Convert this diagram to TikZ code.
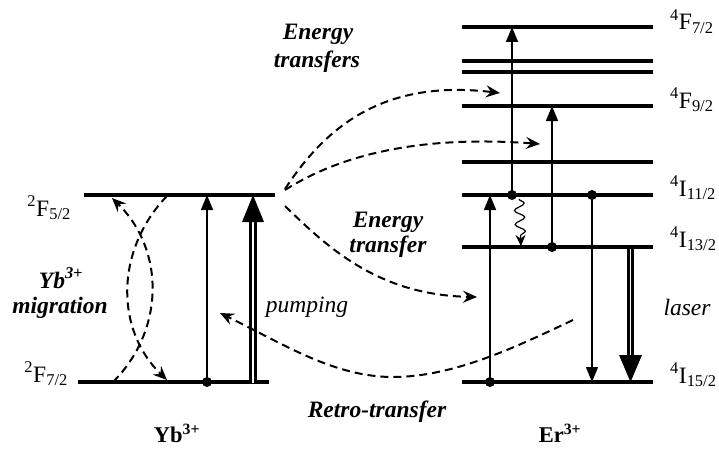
\documentclass[tikz,border=0pt]{standalone}
\usepackage{fontspec}
\setmainfont{Liberation Serif}[
  UprightFont = *,
  BoldFont = * Bold,
  ItalicFont = * Italic,
  BoldItalicFont = * Bold Italic]
\usetikzlibrary{arrows.meta,decorations.pathmorphing}
\begin{document}
\begin{tikzpicture}[x=1pt,y=-1pt,
  level/.style={line width=3.2pt},
  thinarrow/.style={line width=1.5pt,-{Triangle[length=15pt,width=12pt]}},
  dashy/.style={line width=2pt,dash pattern=on 8pt off 5pt,-{Stealth[length=14pt,width=12pt,inset=5pt]}},
  dblblack/.style={line width=7.5pt},
  dblwhite/.style={line width=1.8pt,white},
  lbl/.style={font=\fontsize{23.5}{27}\selectfont,inner sep=0pt},
  lblbi/.style={font=\fontsize{23.5}{27}\selectfont\bfseries\itshape,inner sep=0pt},
  lblb/.style={font=\fontsize{22.5}{27}\selectfont\bfseries,inner sep=0pt},
  lbli/.style={font=\fontsize{23.5}{27}\selectfont\itshape,inner sep=0pt},
  dot/.style={circle,fill,inner sep=0pt,minimum size=10pt}
]
\useasboundingbox (0,0) rectangle (719,452);

% ---------- Yb levels ----------
\coordinate (ybAL) at (84,195); \coordinate (ybAR) at (275,195);
\coordinate (ybBL) at (78,382); \coordinate (ybBR) at (269,382);
\draw[level] (ybAL) -- (ybAR);
\draw[level] (ybBL) -- (ybBR);

% ---------- Er levels ----------
\foreach \n/\y in {1/27,2/61,3/72,4/106,5/162,6/195,7/247,8/382}{
  \coordinate (erL\n) at (462,\y); \coordinate (erR\n) at (653,\y);
  \draw[level] (erL\n) -- (erR\n);
}

% ---------- Yb arrows ----------
\node[dot] (ybdot) at (207,382) {};
\coordinate (ybtop) at (207,195);
\draw[thinarrow] (ybdot.center) -- (ybtop);
% pumping (double arrow)
\coordinate (pA) at (253,383); \coordinate (pB) at (253,216);
\draw[dblblack] (pA) -- (pB);
\draw[dblwhite] (pA) -- (pB);
\fill (253,195) -- (242,222) -- (264,222) -- cycle;

% ---------- Er arrows ----------
\node[dot] (d1) at (512,195) {};
\draw[thinarrow] (d1.center) -- (512,27);
\node[dot] (d2) at (552,247) {};
\draw[thinarrow] (d2.center) -- (552,106);
\node[dot] (d3) at (490,382) {};
\draw[thinarrow] (d3.center) -- (490,195);
\node[dot] (d4) at (592,195) {};
\draw[thinarrow] (d4.center) -- (592,382);
% laser (double arrow)
\coordinate (lA) at (630.5,246); \coordinate (lB) at (630.5,360);
\draw[dblblack] (lA) -- (lB);
\draw[dblwhite] (630.5,249) -- (lB);
\fill (630.5,382) -- (619,355) -- (642,355) -- cycle;
% non-radiative relaxation
\coordinate (wa) at (519,199); \coordinate (wb) at (521,246);
\draw[line width=1.2pt,decorate,decoration={snake,amplitude=5pt,segment length=14pt,post length=7pt},
      -{Stealth[length=11pt,width=10pt,inset=3.5pt]}] (wa) -- (wb);

% ---------- Yb migration ----------
\coordinate (m1a) at (113,382); \coordinate (m1b) at (112,198);
\coordinate (m2a) at (167,196); \coordinate (m2b) at (167,380);
\draw[dashy] (m1a) .. controls (165,330) and (165,250) .. (m1b);
\draw[dashy] (m2a) .. controls (115,250) and (115,330) .. (m2b);

% ---------- Energy transfers ----------
\coordinate (etS1) at (285,189); \coordinate (etE1) at (500,93);
\coordinate (etS2) at (285,190); \coordinate (etE2) at (540,144);
\coordinate (etS3) at (285,206); \coordinate (etE3) at (477,297);
\draw[dashy] (etS1) .. controls (330,120) and (390,80) .. (etE1);
\draw[dashy] (etS2) .. controls (340,155) and (420,135) .. (etE2);
\draw[dashy] (etS3) .. controls (330,250) and (380,295) .. (etE3);

% ---------- Retro-transfer ----------
\coordinate (rtS) at (573,320); \coordinate (rtM) at (393,377); \coordinate (rtE) at (220,313);
\draw[dashy] (rtS) .. controls (520,345) and (455,377) .. (rtM) .. controls (335,377) and (285,345) .. (rtE);

% ---------- Labels ----------
\node[lbl,anchor=base east] (tF52) at (71,216) {\textsuperscript{2}F\textsubscript{5/2}};
\node[lbl,anchor=base east] (tF72) at (68,382) {\textsuperscript{2}F\textsubscript{7/2}};
\node[lblbi,anchor=base] (tYbm1) at (61,288) {Yb\textsuperscript{3+}};
\node[lblbi,anchor=base] (tYbm2) at (60,313) {migration};
\node[lbli,anchor=base] (tpump) at (307,312) {pumping};
\node[lblbi,anchor=base] (tet1) at (318,40) {Energy};
\node[lblbi,anchor=base] (tet2) at (317,67) {transfers};
\node[lblbi,anchor=base] (tetb1) at (388,227) {Energy};
\node[lblbi,anchor=base] (tetb2) at (388,252) {transfer};
\node[lblbi,anchor=base] (tretro) at (377,417) {Retro-transfer};
\node[lblb,anchor=base] (tYb) at (177,442) {Yb\textsuperscript{3+}};
\node[lblb,anchor=base] (tEr) at (560,442) {Er\textsuperscript{3+}};
\node[lbli,anchor=base] (tlaser) at (687,315) {laser};
\node[lbl,anchor=base west] (tE1) at (670,30) {\textsuperscript{4}F\textsubscript{7/2}};
\node[lbl,anchor=base west] (tE4) at (670,108) {\textsuperscript{4}F\textsubscript{9/2}};
\node[lbl,anchor=base west] (tE6) at (670,196) {\textsuperscript{4}I\textsubscript{11/2}};
\node[lbl,anchor=base west] (tE7) at (670,247) {\textsuperscript{4}I\textsubscript{13/2}};
\node[lbl,anchor=base west] (tE8) at (670,383) {\textsuperscript{4}I\textsubscript{15/2}};
\end{tikzpicture}
\end{document}
